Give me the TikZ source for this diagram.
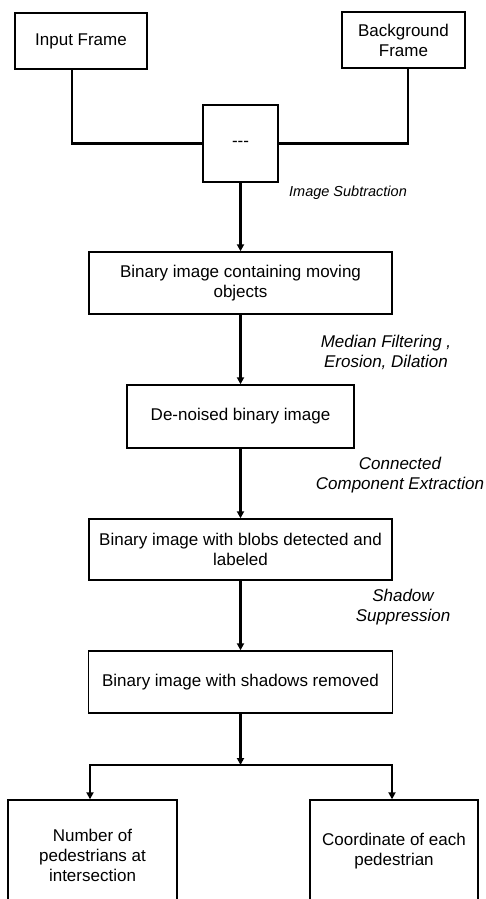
\documentclass[tikz,border=0pt]{standalone}
\usepackage{fontspec}
\setmainfont{Liberation Sans}
\usepackage{tikz}
\usetikzlibrary{arrows.meta,calc}
\tikzset{
  stage/.style={draw,line width=1.4pt,align=center,font=\fontsize{17}{20}\selectfont,inner sep=2pt},
  oplabel/.style={align=center,font=\fontsize{17}{20}\selectfont\itshape},
  link/.style={line width=2.6pt},
  flow/.style={line width=2.6pt,-{Triangle[length=7pt,width=7pt]}}
}
\begin{document}
\begin{tikzpicture}[x=1pt,y=-1pt]
      \useasboundingbox (0,0) rectangle (486,899);
      \clip (0,0) rectangle (486,899);
      % inputs and difference
      \node[stage,minimum width=132pt,minimum height=56pt] (inframe) at (81,41) {Input Frame};
      \node[stage,minimum width=123pt,minimum height=56pt] (bgframe) at (403.5,40) {Background\\Frame};
      \node[stage,minimum width=75pt,minimum height=77pt] (minus) at (240.5,143.5) {-{}-{}-};
      \draw[link] ([xshift=-9pt]inframe.south) |- (minus.west);
      \draw[link] ([xshift=4.5pt]bgframe.south) |- (minus.east);
      % processing chain
      \node[stage,minimum width=303pt,minimum height=62pt] (moving) at (240.5,283) {Binary image containing moving\\objects};
      \node[stage,minimum width=227pt,minimum height=63pt] (denoised) at (240.5,416.5) {De-noised binary image};
      \node[stage,minimum width=303pt,minimum height=61pt] (blobs) at (240.5,549.5) {Binary image with blobs detected and\\labeled};
      \node[stage,minimum width=304pt,minimum height=62pt] (noshadow) at (240.5,682) {Binary image with shadows removed};
      \draw[flow] (minus.south) -- (moving.north);
      \draw[flow] (moving.south) -- (denoised.north);
      \draw[flow] (denoised.south) -- (blobs.north);
      \draw[flow] (blobs.south) -- (noshadow.north);
      \node[oplabel,font=\fontsize{14.5}{20}\selectfont\itshape] (sublbl) at (348,193) {Image Subtraction};
      \node[oplabel] (filtlbl) at (386,352) {Median Filtering ,\\Erosion, Dilation};
      \node[oplabel] (cclbl) at (400,475) {Connected\\Component Extraction};
      \node[oplabel] (shdlbl) at (403,607) {Shadow\\Suppression};
      % outputs
      \node[stage,minimum width=169pt,minimum height=110pt] (count) at (92.5,855) {Number of\\pedestrians at\\intersection};
      \node[stage,minimum width=168pt,minimum height=102pt] (coords) at (394,851) {Coordinate of each\\pedestrian};
      \coordinate (split) at (240.5,765);
      \draw[flow] (noshadow.south) -- (split);
      \draw[flow] (split) -| ([xshift=-2.5pt]count.north);
      \draw[flow] (split) -| ([xshift=-2pt]coords.north);
\end{tikzpicture}
\end{document}
